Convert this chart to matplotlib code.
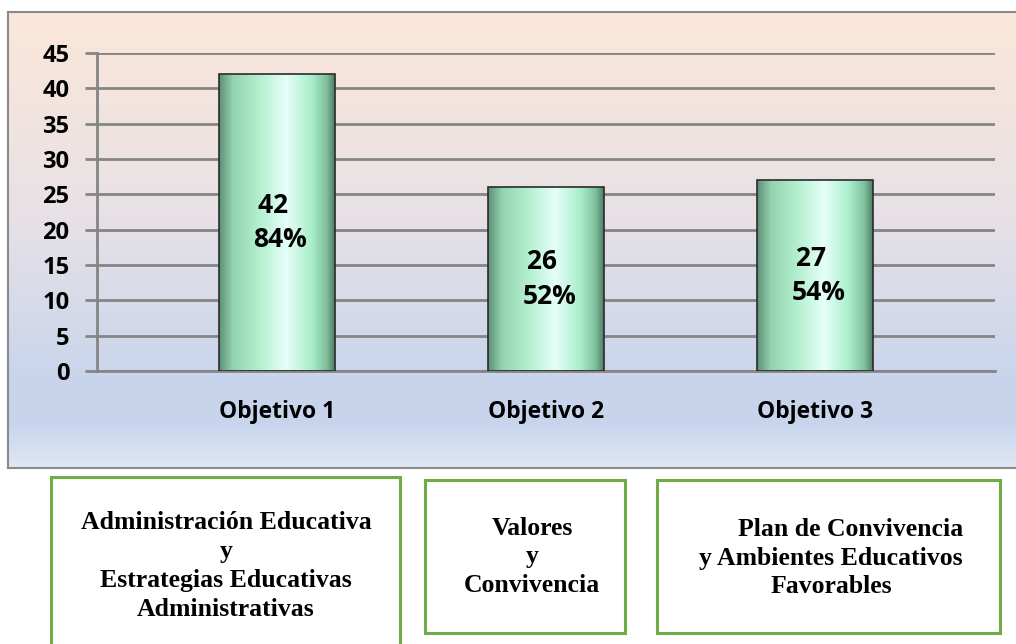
import matplotlib
matplotlib.use("Agg")
import matplotlib.pyplot as plt
import numpy as np
from matplotlib.colors import LinearSegmentedColormap
from matplotlib.patches import Rectangle

categories = ["Objetivo 1", "Objetivo 2", "Objetivo 3"]
counts = [42, 26, 27]
percents = [84, 52, 54]
box_texts = [
    "Administración Educativa\ny\nEstrategias Educativas\nAdministrativas",
    "Valores\ny\nConvivencia",
    "      Plan de Convivencia\ny Ambientes Educativos\nFavorables",
]

W, H = 1016, 644
fig = plt.figure(figsize=(W / 100, H / 100), dpi=100)
fig.patch.set_facecolor("white")

# chart frame with vertical gradient
bg = fig.add_axes([8 / W, 1 - 468 / H, 1.02 - 8 / W, (468 - 12) / H], zorder=0)
bg_cmap = LinearSegmentedColormap.from_list(
    "bg",
    [(0.0, "#fbe7d9"), (0.45, "#e7e1e6"), (0.80, "#c9d5ec"), (0.90, "#c7d4ed"), (1.0, "#dfe7f5")],
)
bg.imshow(np.linspace(0, 1, 256).reshape(-1, 1), aspect="auto", cmap=bg_cmap,
          extent=[0, 1, 0, 1], origin="upper")
bg.set_xticks([])
bg.set_yticks([])
for s in bg.spines.values():
    s.set_color("#8a8a8a")
    s.set_linewidth(1.5)

ax = fig.add_axes([97 / W, 1 - 371 / H, (995 - 97) / W, (371 - 53) / H], zorder=2)
ax.patch.set_alpha(0)
x = np.arange(len(categories))
bars = ax.bar(x, counts, width=0.43, color="none", edgecolor="#2b2b2b", linewidth=1.2, zorder=3)

bar_cmap = LinearSegmentedColormap.from_list(
    "bar",
    [(0.0, "#5d8f76"), (0.12, "#93d3b0"), (0.35, "#b4f0cf"), (0.58, "#e6fff9"),
     (0.8, "#a9eecb"), (0.93, "#7fbf9c"), (1.0, "#4f7f66")],
)
grad = np.tile(np.linspace(0, 1, 256), (64, 1))
for b in bars:
    x0, y0 = b.get_x(), b.get_y()
    im = ax.imshow(grad, aspect="auto", cmap=bar_cmap,
                   extent=[x0, x0 + b.get_width(), y0, y0 + b.get_height()], zorder=2)
    im.set_clip_path(b)

ax.set_xlim(-0.669, 2.669)
ax.set_ylim(0, 45)
ax.set_yticks(range(0, 46, 5))
ax.yaxis.grid(True, color="#858585", linewidth=2, zorder=1)
ax.set_axisbelow(True)
ax.set_xticks(x)
ax.set_xticklabels(categories)
ax.tick_params(axis="x", length=0, pad=21)
ax.tick_params(axis="y", length=9, width=2, color="#858585", pad=11)
for lab in ax.get_xticklabels() + ax.get_yticklabels():
    lab.set_fontfamily("Open Sans")
    lab.set_fontweight("bold")
    lab.set_fontsize(17)
for lab in ax.get_xticklabels():
    lab.set_fontsize(16.5)
for side in ["top", "right"]:
    ax.spines[side].set_visible(False)
ax.spines["left"].set_color("#858585")
ax.spines["left"].set_linewidth(2)
ax.spines["bottom"].set_color("#858585")
ax.spines["bottom"].set_linewidth(2)

for xi, c, p in zip(x, counts, percents):
    ax.text(xi + 0.012, c / 2, f"{c}  \n{p}%", ha="center", va="center", fontsize=19,
            fontfamily="Open Sans", fontweight="bold", linespacing=1.35, zorder=4)

# description boxes under the chart
boxes = [(51, 477, 400, 650), (425, 480, 625, 633), (657, 480, 1000, 633)]
for (l, t, r, btm), txt in zip(boxes, box_texts):
    fig.patches.append(Rectangle((l / W, 1 - btm / H), (r - l) / W, (btm - t) / H,
                                 transform=fig.transFigure, facecolor="white",
                                 edgecolor="#70ad47", linewidth=2.2, zorder=3))
text_pos = [(226, 566), (532, 557), (831, 558)]
for (tx, ty), txt in zip(text_pos, box_texts):
    fig.text(tx / W, 1 - ty / H, txt, ha="center", va="center", fontsize=18.5,
             fontfamily="Liberation Serif", fontweight="bold", linespacing=1.32)

fig.savefig("out.png", dpi=100)
